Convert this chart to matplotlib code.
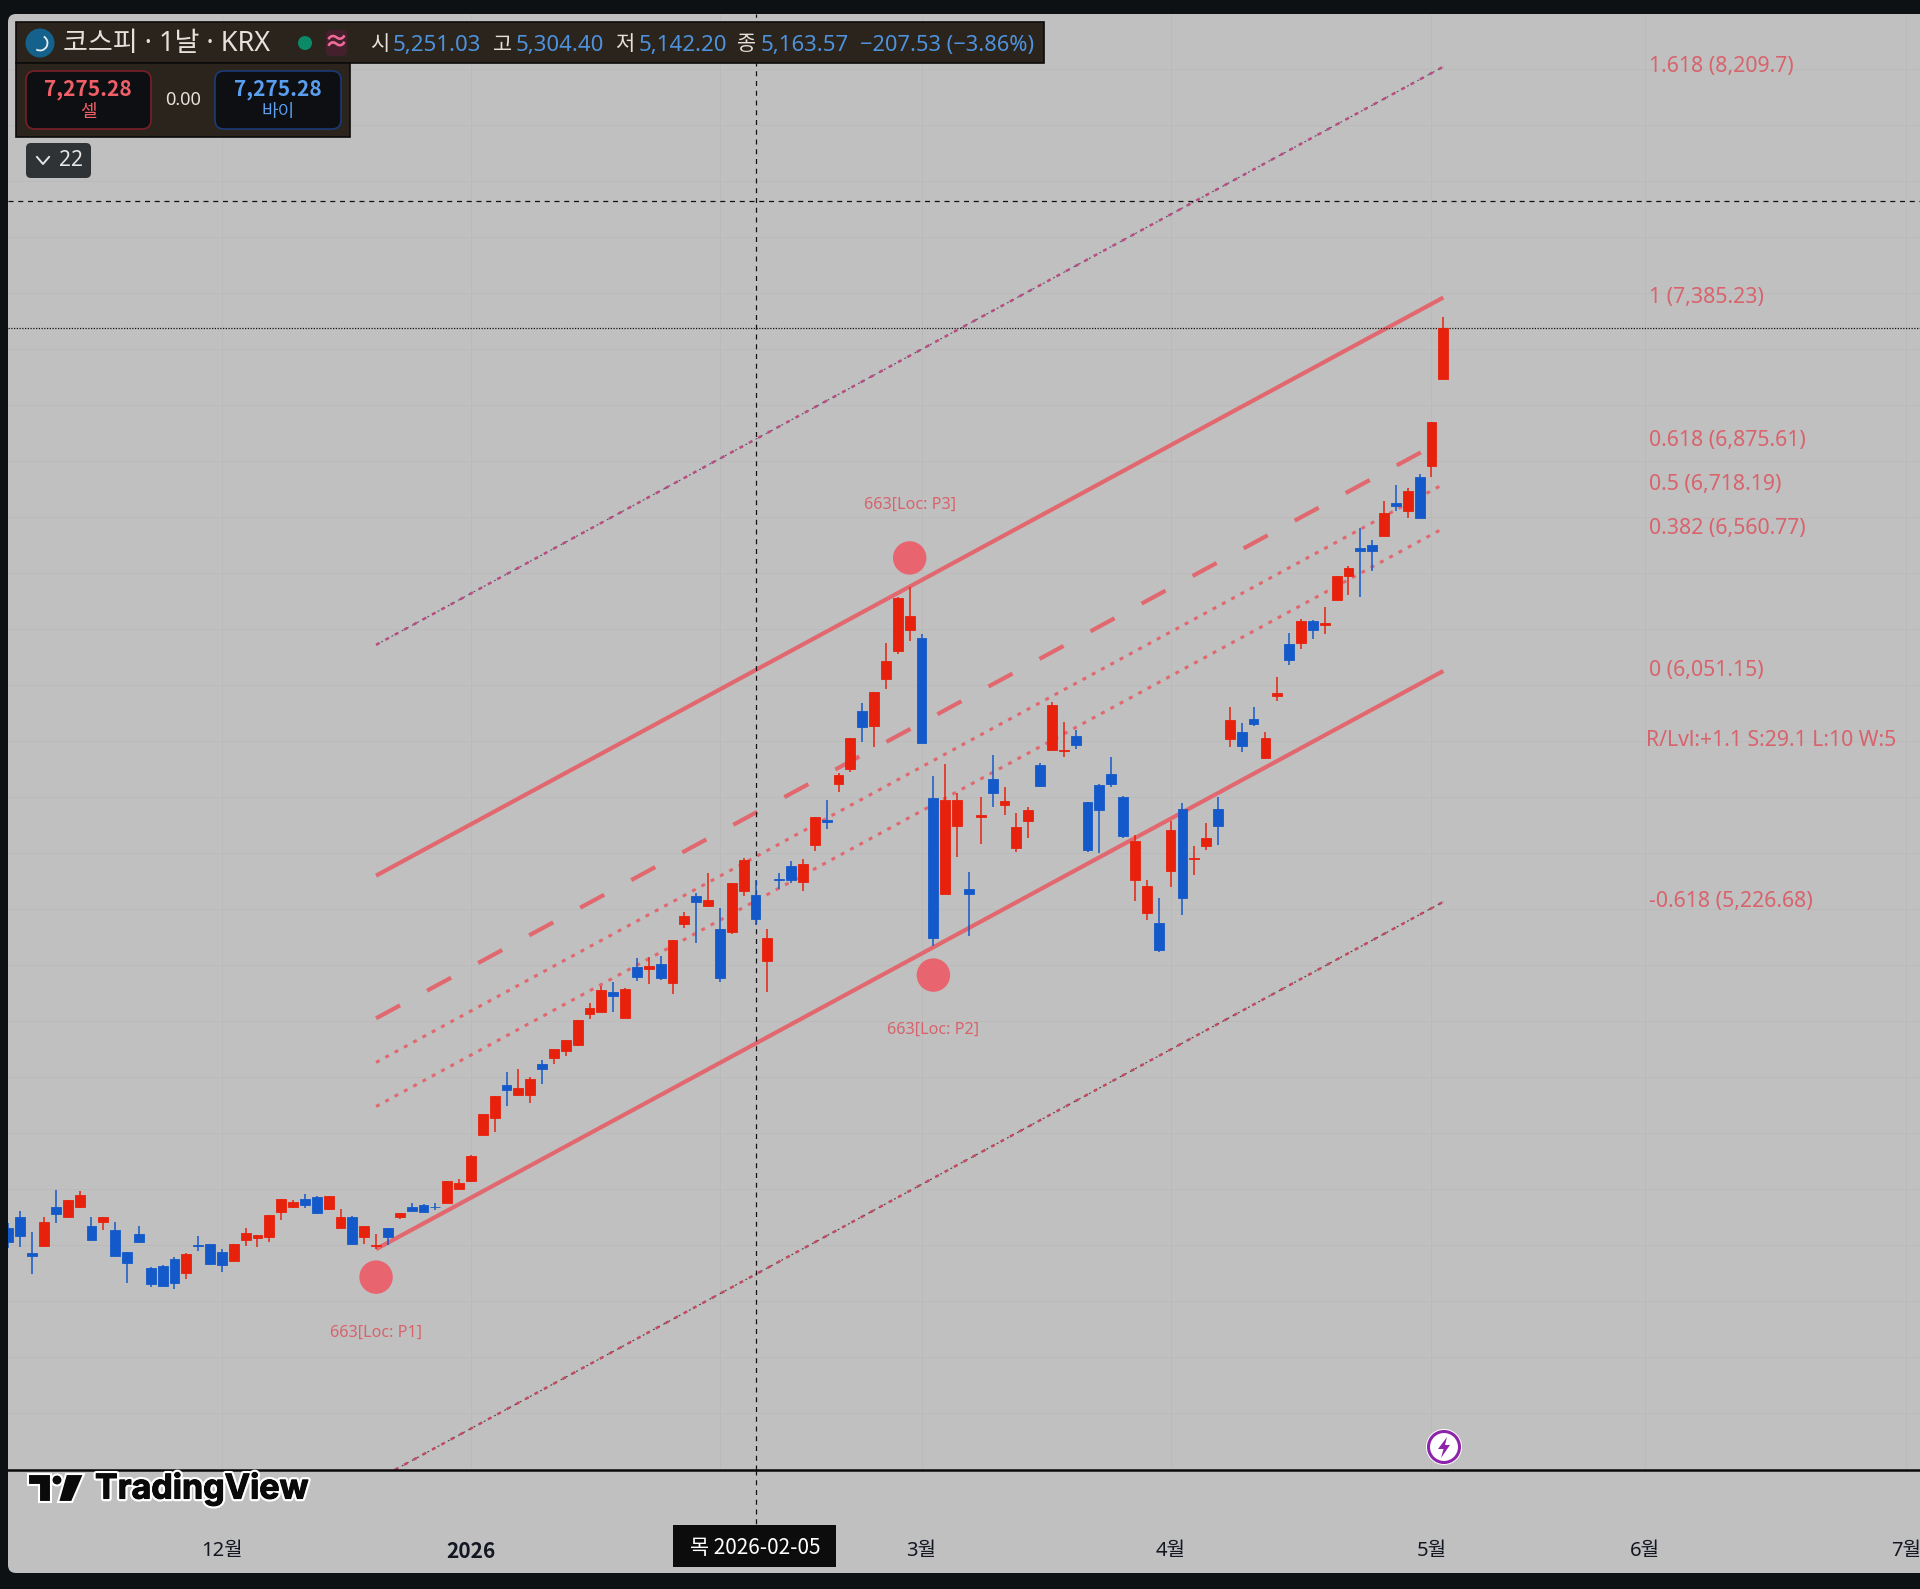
import matplotlib
matplotlib.use('Agg')
import matplotlib.pyplot as plt
import matplotlib.patheffects as pe
from matplotlib.patches import Arc, Circle, FancyBboxPatch, Polygon, Rectangle

plt.rcParams['font.family'] = ['Noto Sans', 'Noto Sans CJK KR', 'DejaVu Sans']

# daily candles
opens = [4063, 4102, 3973, 3998, 4135, 4102, 4135, 4070, 4083, 4055, 3976, 4041, 3919, 3925, 3951, 3900, 4000, 4005, 3976, 3945,
         4017, 4026, 4030, 4117, 4136, 4166, 4173, 4130, 4062, 4102, 4028, 3997, 4063, 4102, 4136, 4144, 4138, 4152, 4200, 4231,
         4392, 4454, 4574, 4536, 4536, 4647, 4668, 4692, 4715, 4827, 4833, 4906, 4813, 4994, 4987, 5003, 4936, 5149, 5247, 5213,
         5129, 5119, 5266, 5251.03, 5015, 5308, 5354, 5298, 5431, 5519, 5647, 5701, 5907, 5856, 6024, 6124, 6199, 6169, 5598, 5256,
         5496, 5272, 5528, 5666, 5573, 5418, 5515, 5716, 5769, 5764, 5819, 5584, 5643, 5684, 5601, 5305, 5185, 5150, 5335, 5559,
         5380, 5427, 5557, 5808, 5832, 5879, 5739, 5963, 6146, 6151, 6229, 6217, 6306, 6389, 6489, 6500, 6535, 6650, 6622, 6744,
         6783, 7093]
highs = [4079, 4123, 4047, 4100, 4197, 4161, 4195, 4101, 4100, 4083, 3976, 4069, 3922, 3929, 3957, 3971, 4033, 4005, 3986, 4005,
         4061, 4038, 4108, 4164, 4160, 4183, 4177, 4176, 4130, 4106, 4069, 4041, 4063, 4114, 4150, 4147, 4150, 4230, 4236, 4321,
         4468, 4534, 4619, 4628, 4600, 4661, 4700, 4732, 4806, 4864, 4927, 4941, 4918, 5026, 5030, 5033, 5090, 5190, 5257, 5328,
         5203, 5294, 5383, 5304.40, 5128, 5328, 5371, 5379, 5529, 5591, 5686, 5813, 5936, 5975, 6150, 6317, 6352, 6183, 5677, 5718,
         5617, 5332, 5600, 5751, 5636, 5543, 5567, 5722, 5939, 5868, 5841, 5584, 5649, 5745, 5605, 5466, 5303, 5242, 5517, 5579,
         5426, 5509, 5600, 5923, 5867, 5923, 5832, 6028, 6188, 6237, 6234, 6281, 6391, 6426, 6561, 6519, 6658, 6714, 6704, 6754,
         6940, 7314]
lows = [3989, 3995, 3897, 3993, 4078, 4100, 4132, 4020, 4055, 3962, 3864, 4013, 3850, 3850, 3845, 3879, 3978, 3931, 3903, 3943,
        3998, 3994, 4013, 4091, 4132, 4133, 4113, 4127, 4062, 4004, 4006, 3986, 4001, 4094, 4122, 4117, 4124, 4152, 4198, 4226,
        4392, 4404, 4498, 4536, 4509, 4577, 4647, 4677, 4713, 4807, 4833, 4833, 4813, 4943, 4934, 4949, 4897, 5133, 5081, 5208,
        4941, 5112, 5248, 5142.20, 4906, 5272, 5295, 5266, 5407, 5488, 5620, 5692, 5799, 5781, 5988, 6112, 6159, 5795, 5069, 5256,
        5388, 5105, 5434, 5567, 5535, 5403, 5456, 5638, 5769, 5745, 5773, 5404, 5400, 5638, 5456, 5228, 5160, 5049, 5279, 5179,
        5323, 5411, 5430, 5778, 5763, 5856, 5737, 5944, 6071, 6131, 6167, 6184, 6306, 6324, 6316, 6410, 6535, 6624, 6599, 6599,
        6744, 7093]
closes = [4013, 4033, 3962, 4083, 4113, 4161, 4180, 4020, 4100, 3962, 3936, 4013, 3862, 3855, 3864, 3970, 3997, 3933, 3930, 4005,
          4044, 4038, 4108, 4164, 4154, 4142, 4116, 4176, 4099, 4006, 4067, 4001, 4031, 4114, 4123, 4117, 4136, 4229, 4221, 4319,
          4468, 4534, 4556, 4561, 4593, 4631, 4700, 4732, 4806, 4847, 4912, 4890, 4915, 4959, 4997, 4955, 5090, 5176, 5227, 5232,
          4955, 5294, 5376, 5163.57, 5097, 5304, 5304, 5360, 5529, 5511, 5681, 5813, 5850, 5975, 6087, 6311, 6249, 5795, 5099, 5591,
          5591, 5255, 5538, 5614, 5586, 5493, 5554, 5642, 5930, 5769, 5785, 5411, 5556, 5647, 5463, 5444, 5284, 5056, 5484, 5241,
          5384, 5453, 5499, 5876, 5782, 5863, 5813, 5971, 6092, 6229, 6196, 6224, 6391, 6419, 6478, 6478, 6617, 6641, 6693, 6599,
          6940, 7275.28]

# x axis labels sit on these bars
tick_pos = [18, 39, 77, 98, 120, 138, 160]
tick_labels = ['12월', '2026', '3월', '4월', '5월', '6월', '7월']
grid_pos = [18, 39, 60, 77, 98, 120, 138, 160]
price_grid = list(range(3200, 8600, 200))

# fib channel
fib_labels = ['1.618 (8,209.7)', '1 (7,385.23)', '0.618 (6,875.61)', '0.5 (6,718.19)', '0.382 (6,560.77)', '0 (6,051.15)', '-0.618 (5,226.68)']
fib_end = [8209.7, 7385.23, 6875.61, 6718.19, 6560.77, 6051.15, 5226.68]
fib_start_bar = 31
fib_end_bar = 121
fib_base_start = 3986

pivot_bars = [31, 78, 76]
pivot_prices = [3886, 4965, 6455]
pivot_text = ['663[Loc: P1]', '663[Loc: P2]', '663[Loc: P3]']
pivot_text_prices = [3686, 4769, 6645]

crosshair_bar = 63
crosshair_price = 7730
last_price = 7275.28

RED = '#e8210c'
BLUE = '#1459c9'
PINK = '#e2686f'
LABEL = '#d8636c'
W, H = 1920, 1589

fig = plt.figure(figsize=(19.2, 15.89), dpi=100, facecolor='#0e1114')

bg = fig.add_axes([0, 0, 1, 1], zorder=-1)
bg.set_xlim(0, W)
bg.set_ylim(H, 0)
bg.axis('off')
bg.add_patch(FancyBboxPatch((8, 14), 1950, 1559, boxstyle='round,pad=0,rounding_size=8', fc='#c0c0c0', ec='none'))

# price axes, pixel box of the pane is x 8..1920, y 14..1470
ax = fig.add_axes([8 / W, 1 - 1470 / H, (W - 8) / W, (1470 - 14) / H])
ax.patch.set_alpha(0)
ax.set_xlim(-0.04, 161.2)
ax.set_ylim(3197, 8398)
for s in ax.spines.values():
    s.set_visible(False)
ax.spines['bottom'].set_visible(True)
ax.spines['bottom'].set_linewidth(1.8)
ax.spines['bottom'].set_color('#0a0a0a')
ax.set_xticks(tick_pos)
ax.set_xticklabels(tick_labels, fontsize=14.5, color='#131722')
ax.get_xticklabels()[1].set_fontweight('bold')
ax.get_xticklabels()[1].set_family('Noto Sans CJK KR')
ax.get_xticklabels()[1].set_fontsize(15)
ax.set_yticks([])
ax.tick_params(axis='x', length=0, pad=51)
for p in grid_pos:
    ax.axvline(p, color='#bababa', lw=0.7, zorder=1)
for p in price_grid:
    ax.axhline(p, color='#bababa', lw=0.7, zorder=1)

# channel lines
shift = fib_end[5] - fib_base_start
xs = [fib_start_bar, fib_end_bar]
for lvl, end in zip(fib_labels, fib_end):
    ys = [end - shift, end]
    if lvl.startswith('1 ') or lvl.startswith('0 '):
        ax.plot(xs, ys, color=PINK, lw=3.0, zorder=2, solid_capstyle='butt')
    elif lvl.startswith('0.618'):
        ax.plot(xs, ys, color=PINK, lw=3.0, zorder=2, dashes=(6.55, 7.38), dash_capstyle='butt')
    elif lvl.startswith('1.618'):
        ax.plot(xs, ys, color='#4d4468', lw=0.7, zorder=2, dashes=(2, 4))
        ax.plot(xs, ys, color='#bb4c80', lw=1.8, zorder=2, dashes=(1.6, 2.64), dash_capstyle='butt')
    elif lvl.startswith('-0.618'):
        ax.plot(xs, ys, color='#3c3236', lw=0.7, zorder=2, dashes=(2, 4))
        ax.plot(xs, ys, color='#c24a62', lw=1.8, zorder=2, dashes=(1.6, 2.64), dash_capstyle='butt')
    else:
        ax.plot(xs, ys, color=PINK, lw=2.2, zorder=2, dashes=(1.3, 2.16), dash_capstyle='butt')
    ax.text(138.35, end, lvl, color=LABEL, fontsize=15.3, va='center', ha='left', zorder=6)

ax.text(138.1, 5804, 'R/Lvl:+1.1 S:29.1 L:10 W:5', color=LABEL, fontsize=15.3, va='center', ha='left', zorder=6)

# crosshair and last price
ax.axvline(crosshair_bar, color='#111111', lw=0.9, dashes=(4, 3.8), zorder=3)
ax.axhline(crosshair_price, color='#111111', lw=0.9, dashes=(4, 3.8), zorder=3)
ax.axhline(last_price, color='#111111', lw=0.9, dashes=(1, 1.2), zorder=3)

# candles
for i in range(len(opens)):
    col = RED if closes[i] >= opens[i] else BLUE
    ax.vlines(i, lows[i], highs[i], color=col, lw=1.1, zorder=4)
    bottom = min(opens[i], closes[i])
    ax.bar(i, abs(closes[i] - opens[i]), bottom=bottom, width=0.83, color=col, edgecolor=col, linewidth=0.6, zorder=5)

# pivots
ax.scatter(pivot_bars, pivot_prices, s=580, color='#e8646e', edgecolor='none', zorder=6)
for b, txt, p in zip(pivot_bars, pivot_text, pivot_text_prices):
    ax.text(b, p, txt, color=LABEL, fontsize=11.7, ha='center', va='center', zorder=6)

# header, watermark and the rest of the tv furniture
top = fig.add_axes([0, 0, 1, 1], zorder=5)
top.set_xlim(0, W)
top.set_ylim(H, 0)
top.axis('off')
top.patch.set_alpha(0)

top.plot([756, 756], [1470, 1526], color='#111111', lw=0.9, dashes=(4, 3.8))

top.add_patch(Rectangle((16, 22), 1028, 41, fc='#2a241c', ec='#0b0b0b', lw=1.2))
top.add_patch(Rectangle((16, 63), 334, 74, fc='#2a241c', ec='#0b0b0b', lw=1.2))
top.add_patch(Circle((40, 43), 14.5, fc='#14618c', ec='none'))
top.add_patch(Arc((40, 43), 15, 15, theta1=-60, theta2=120, ec='#e4edf2', lw=1.3))
top.text(63, 44, '코스피 · 1날 · KRX', color='#e6e1da', fontsize=19.5, va='center', ha='left')
top.add_patch(Circle((305, 43), 7, fc='#0b8a68', ec='none'))
top.add_patch(FancyBboxPatch((326, 30), 21, 26, boxstyle='round,pad=0,rounding_size=4', fc='#43202b', ec='none'))
top.text(336.5, 43, '≈', color='#f06a9a', fontsize=18, fontweight='bold', va='center', ha='center')

for x, label in [(370, '시'), (493, '고'), (615, '저'), (737, '종')]:
    top.text(x, 45, label, color='#e6e1da', fontsize=15, va='center', ha='left')
for x, label in [(393, '5,251.03'), (516, '5,304.40'), (639, '5,142.20'), (761, '5,163.57')]:
    top.text(x, 45, label, color='#4e92dc', fontsize=16, va='center', ha='left')
top.text(860, 45, '−207.53 (−3.86%)', color='#4e92dc', fontsize=15.7, va='center', ha='left')

top.add_patch(FancyBboxPatch((26, 71), 125, 58, boxstyle='round,pad=0,rounding_size=9', fc='#0e0f12', ec='#7a1f28', lw=1.2))
top.add_patch(FancyBboxPatch((215, 71), 126, 58, boxstyle='round,pad=0,rounding_size=9', fc='#0e0f12', ec='#1c3a78', lw=1.2))
top.text(88, 90, '7,275.28', color='#ef5f67', fontsize=15, fontweight='bold', family='Noto Sans CJK KR', va='center', ha='center')
top.text(88, 112, '셀', color='#ef5f67', fontsize=13, va='center', ha='center')
top.text(278, 90, '7,275.28', color='#5a9ef0', fontsize=15, fontweight='bold', family='Noto Sans CJK KR', va='center', ha='center')
top.text(278, 112, '바이', color='#5a9ef0', fontsize=13, va='center', ha='center')
top.text(183, 100, '0.00', color='#e6e1da', fontsize=13, va='center', ha='center')

top.add_patch(FancyBboxPatch((26, 143), 65, 35, boxstyle='round,pad=0,rounding_size=5', fc='#2f3336', ec='none'))
top.plot([37, 43, 49], [157, 164, 157], color='#e6e6e6', lw=1.4)
top.text(71, 161, '22', color='#e6e6e6', fontsize=15, va='center', ha='center')

# lightning marker
top.add_patch(Circle((1444, 1447), 18, fc='#ffffff', ec='none'))
top.add_patch(Circle((1444, 1447), 15.5, fc='#ffffff', ec='#8e24aa', lw=2.2))
top.add_patch(Polygon([(1447, 1437), (1438, 1449), (1443.5, 1449), (1441, 1458), (1450, 1445), (1445, 1445)], fc='#8e24aa', ec='none'))

# watermark
halo = [pe.withStroke(linewidth=4, foreground='white'), pe.Stroke(linewidth=0.8, foreground='#0a0a0a'), pe.Normal()]
logo = [Polygon([(28, 1474), (51, 1474), (51, 1502), (39, 1502), (39, 1485), (28, 1485)], fc='#0a0a0a', ec='white', lw=1.5),
        Circle((57, 1480), 5.5, fc='#0a0a0a', ec='white', lw=1.5),
        Polygon([(66, 1474), (84, 1474), (72, 1502), (58, 1502)], fc='#0a0a0a', ec='white', lw=1.5)]
for p in logo:
    top.add_patch(p)
top.text(95, 1489, 'TradingView', color='#0a0a0a', fontsize=24.5, fontweight='bold', family='Inter',
         va='center', ha='left', path_effects=halo)

# date label on the crosshair
top.add_patch(Rectangle((673, 1525), 163, 42, fc='#0c0c0c', ec='none'))
top.text(755, 1548, '목 2026-02-05', color='#ffffff', fontsize=15, fontweight='medium', family='Noto Sans CJK KR', va='center', ha='center')

fig.savefig('out.png', dpi=100, facecolor=fig.get_facecolor())
